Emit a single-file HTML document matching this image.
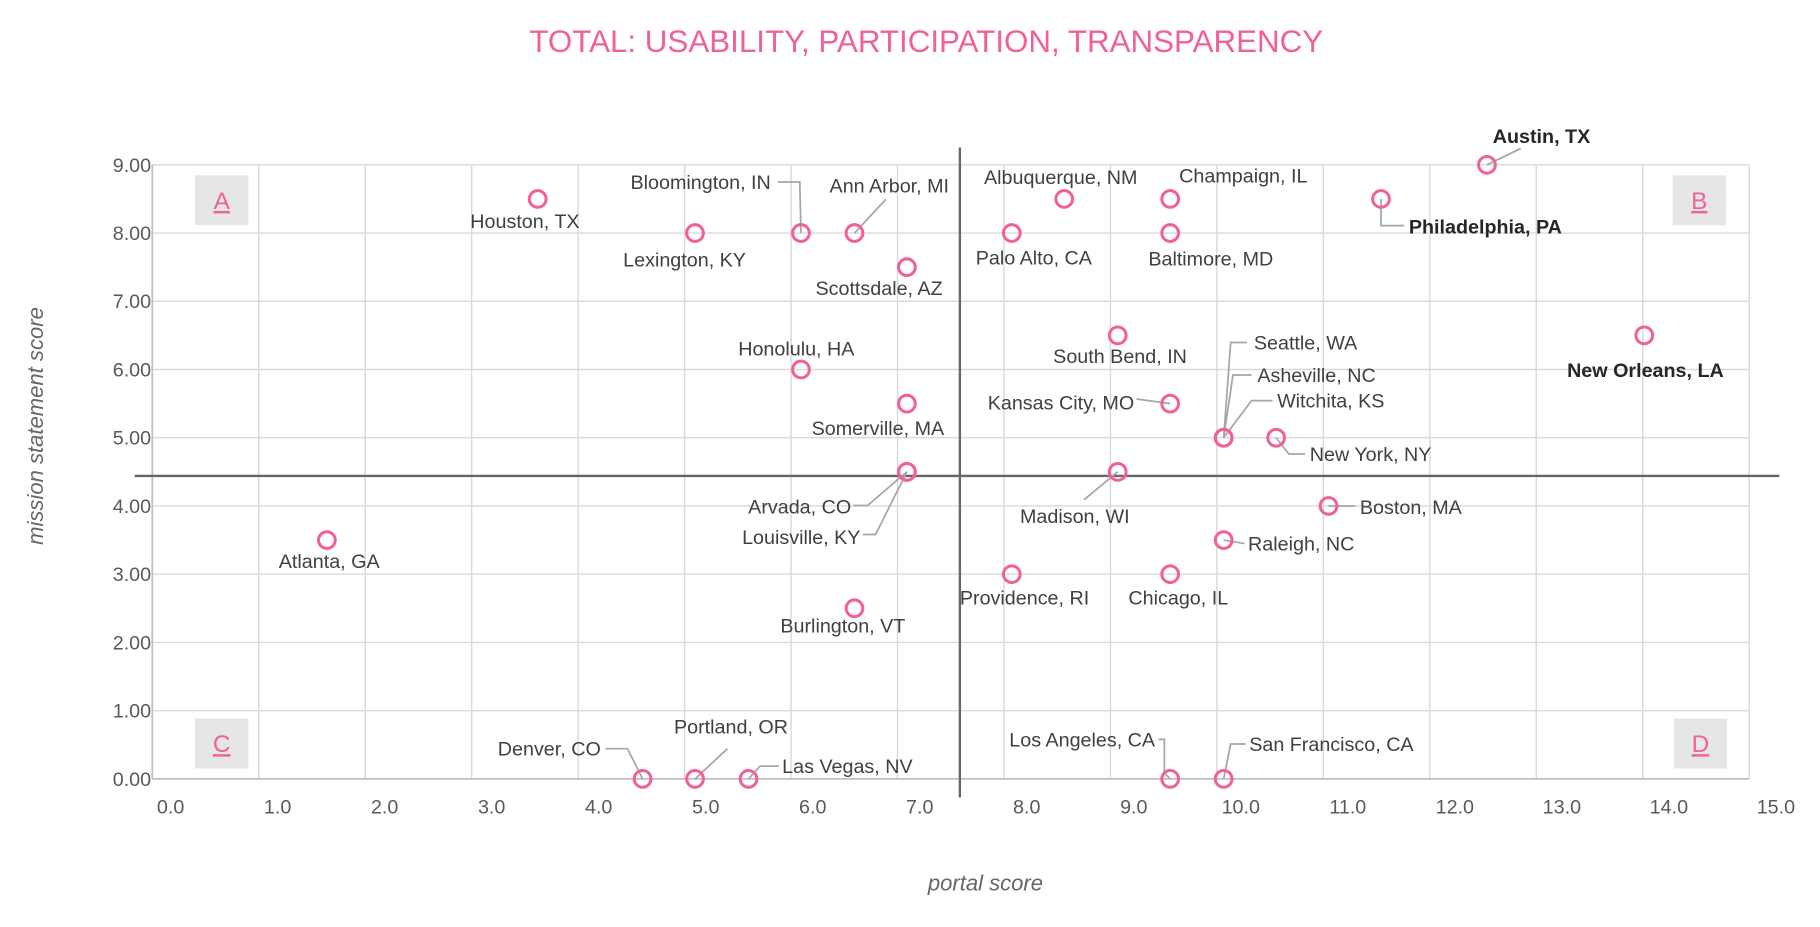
<!DOCTYPE html>
<html><head><meta charset="utf-8"><style>
html,body{margin:0;padding:0;background:#fff;}
svg{display:block;font-family:"Liberation Sans",sans-serif;}
</style></head><body>
<svg id="chart" width="1820" height="927" viewBox="0 0 1568 798.6">
<text x="798" y="45" text-anchor="middle" font-size="27" fill="#f0609a">TOTAL: USABILITY, PARTICIPATION, TRANSPARENCY</text>
<g id="grid"></g>
<g id="axes"></g>
<g id="quads"></g>
<g id="leaders"></g>
<g id="points"></g>
<g id="labels"></g>
<text x="849" y="767" text-anchor="middle" font-size="19" font-style="italic" fill="#666">portal score</text>
<text transform="translate(37,367) rotate(-90)" text-anchor="middle" font-size="19" font-style="italic" fill="#666">mission statement score</text>
</svg>
<script>
const cities = ["Austin, TX","Philadelphia, PA","New Orleans, LA","Houston, TX","Lexington, KY","Bloomington, IN","Ann Arbor, MI","Scottsdale, AZ","Albuquerque, NM","Champaign, IL","Palo Alto, CA","Baltimore, MD","Honolulu, HA","Somerville, MA","South Bend, IN","Kansas City, MO","Seattle, WA","Asheville, NC","Witchita, KS","New York, NY","Arvada, CO","Louisville, KY","Madison, WI","Boston, MA","Raleigh, NC","Atlanta, GA","Providence, RI","Chicago, IL","Burlington, VT","Denver, CO","Portland, OR","Las Vegas, NV","Los Angeles, CA","San Francisco, CA"];
const portalScores = [12.30,11.31,13.77,3.43,4.90,5.89,6.39,6.88,8.35,9.34,7.86,9.34,5.89,6.88,8.85,9.34,9.84,9.84,9.84,10.33,6.88,6.88,8.85,10.82,9.84,1.46,7.86,9.34,6.39,4.41,4.90,5.40,9.34,9.84];
const missionScores = [9,8.5,6.5,8.5,8,8,8,7.5,8.5,8.5,8,8,6,5.5,6.5,5.5,5,5,5,5,4.5,4.5,4.5,4,3.5,3.5,3,3,2.5,0,0,0,0,0];
const xTicks = ["0.0","1.0","2.0","3.0","4.0","5.0","6.0","7.0","8.0","9.0","10.0","11.0","12.0","13.0","14.0","15.0"];
const yTicks = ["0.00","1.00","2.00","3.00","4.00","5.00","6.00","7.00","8.00","9.00"];
const quadrantX = 7.375, quadrantY = 4.44;

// label layout: [dx, dy, anchor, leader?] relative to point (px)
const layout = [
 [47,-25,"middle",[[0,0],[29,-14]]],[24,24,"start",[[0,0],[0,23],[20,23]]],[1,30,"middle",null],
 [-11,19,"middle",null],[-9,23,"middle",null],[-26,-44,"end",[[0,0],[-1,-44],[-20,-44]]],
 [30,-41,"middle",[[0,0],[27,-29]]],[-24,18,"middle",null],[-3,-19,"middle",null],
 [63,-20,"middle",null],[19,21,"middle",null],[35,22,"middle",null],[-4,-18,"middle",null],
 [-25,21,"middle",null],[2,18,"middle",null],[-31,-1,"end",[[0,0],[-29,-4]]],
 [26,-82,"start",[[0,0],[6,-82],[20,-82]]],[29,-54,"start",[[0,0],[8,-54],[24,-54]]],
 [46,-32,"start",[[0,0],[24,-32],[42,-32]]],[29,14,"start",[[0,0],[11,14],[25,14]]],
 [-48,30,"end",[[0,0],[-34,29],[-46,29]]],[-40,56,"end",[[0,0],[-27,54],[-38,54]]],
 [-37,38,"middle",[[0,0],[-29,24]]],[27,1,"start",[[0,0],[23,0]]],[21,3,"start",[[0,0],[18,3]]],
 [2,18,"middle",null],[11,20,"middle",null],[7,20,"middle",null],[-10,15,"middle",null],
 [-36,-26,"end",[[0,0],[-13,-26],[-32,-26]]],[31,-45,"middle",[[0,0],[28,-26]]],
 [29,-11,"start",[[0,0],[10,-11],[26,-11]]],[-13,-34,"end",[[0,0],[-5,-5],[-5,-34],[-10,-34]]],
 [22,-30,"start",[[0,0],[6,-30],[19,-30]]]
];
const boldIdx = [0,1,2];

const NS="http://www.w3.org/2000/svg";
const L=131.2,R=1507,T=142,B=671;
function xs(v){return 147+92.2*v;}
function ys(v){return 671-58.78*v;}
function mk(tag,attrs,parent){const e=document.createElementNS(NS,tag);for(const k in attrs)e.setAttribute(k,attrs[k]);parent.appendChild(e);return e;}
const grid=document.getElementById('grid'),axes=document.getElementById('axes'),quads=document.getElementById('quads');
const leaders=document.getElementById('leaders'),pts=document.getElementById('points'),labs=document.getElementById('labels');

xTicks.forEach((t,i)=>{
 const gx=L+(R-L)/15*i;
 const ln=mk('line',{x1:gx,x2:gx,y1:T,y2:B,stroke:'#d9d9d9','stroke-width':1.2},grid);
 
 
 const tx=mk('text',{x:xs(i),y:B+30,'text-anchor':'middle','font-size':17,fill:'#595959'},axes);
 tx.textContent=t;
 
 
});
yTicks.forEach((t,i)=>{
 const y=ys(parseFloat(t));
 const ln=mk('line',{x1:L,x2:R,y1:y,y2:y,stroke:'#d9d9d9','stroke-width':1.2},grid);
 
 
 const tx=mk('text',{x:L-1,y:y+6,'text-anchor':'end','font-size':17,fill:'#595959'},axes);
 tx.textContent=t;
 
 
});
mk('line',{x1:L,x2:L,y1:T,y2:B,stroke:'#bfbfbf','stroke-width':1.5},axes);
mk('line',{x1:L,x2:R,y1:B,y2:B,stroke:'#bfbfbf','stroke-width':1.5},axes);
const qv=mk('line',{x1:xs(quadrantX),x2:xs(quadrantX),y1:127,y2:687,stroke:'#666','stroke-width':2},axes);


const qh=mk('line',{x1:116,x2:1533,y1:ys(quadrantY),y2:ys(quadrantY),stroke:'#666','stroke-width':2},axes);



[["A",168,151],["B",1441,151],["C",168,619],["D",1442,619]].forEach(q=>{
 const g=mk('g',{},quads);
 
 
 mk('rect',{x:q[1],y:q[2],width:46,height:43,fill:'#e6e6e6'},g);
 const t=mk('text',{x:q[1]+23,y:q[2]+29,'text-anchor':'middle','font-size':21,fill:'#f0609a','text-decoration':'underline'},g);
 t.textContent=q[0];
});

cities.forEach((c,i)=>{
 const px=xs(portalScores[i]),py=ys(missionScores[i]);
 const lay=layout[i];
 if(lay[3]){
  const p=lay[3].map(a=>(px+a[0])+','+(py+a[1])).join(' ');
  const pl=mk('polyline',{points:p,fill:'none',stroke:'#a6a6a6','stroke-width':1.5},leaders);
  
  
 }
 const ci=mk('circle',{cx:px,cy:py,r:7.2,fill:'none',stroke:'#f0609a','stroke-width':2.6},pts);
 
 
 const bold=boldIdx.includes(i);
 const tx=mk('text',{x:px+lay[0],y:py+lay[1]+6,'text-anchor':lay[2],'font-size':17,fill:bold?'#262626':'#404040','font-weight':bold?'bold':'normal'},labs);
 tx.textContent=c;
 
 
});
</script>
</body></html>
